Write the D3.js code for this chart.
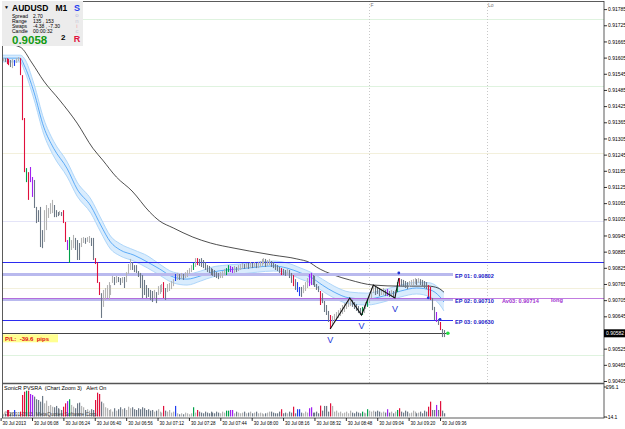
<!DOCTYPE html>
<html>
<head>
<meta charset="utf-8">
<style>
  body { margin: 0; background: #fff; }
  text { font-family: "Liberation Sans", Arial, sans-serif; }
  .axis path { display: none; }
  .axis line { stroke: #000; stroke-width: 0.8px; }
  .axis text { font-size: 5px; fill: #000; }
</style>
</head>
<body>
<script src="https://cdn.jsdelivr.net/npm/d3@7/dist/d3.min.js"></script>
<script>
// ---- data: one AUDUSD M1 bar per minute, first bar 05:53 ----
var highs = [.91603,.91603,.91603,.91600,.91596,.91600,.91596,.91603,.91607,.91603,
  .91540,.91381,.91195,.91180,.91199,.91162,.91151,.91051,.91039,.91051,
  .90965,.91039,.91058,.91047,.91065,.91077,.91058,.91039,.91032,.91036,
  .91032,.91039,.90995,.90928,.90939,.90928,.90947,.90936,.90928,.90917,
  .90936,.90939,.90936,.90939,.90943,.90936,.90936,.90861,.90846,.90772,
  .90731,.90743,.90750,.90761,.90772,.90761,.90795,.90791,.90795,.90791,
  .90787,.90791,.90791,.90809,.90839,.90858,.90846,.90835,.90835,.90813,
  .90806,.90798,.90780,.90761,.90750,.90743,.90739,.90743,.90735,.90757,
  .90761,.90765,.90772,.90750,.90765,.90769,.90776,.90783,.90802,.90806,
  .90802,.90806,.90802,.90809,.90817,.90824,.90835,.90843,.90861,.90861,
  .90858,.90861,.90854,.90846,.90835,.90832,.90824,.90821,.90817,.90809,
  .90806,.90809,.90813,.90821,.90824,.90835,.90832,.90828,.90832,.90828,
  .90835,.90839,.90843,.90839,.90843,.90843,.90846,.90843,.90846,.90843,
  .90846,.90850,.90858,.90861,.90858,.90854,.90858,.90850,.90846,.90839,
  .90835,.90828,.90824,.90821,.90817,.90821,.90817,.90806,.90798,.90783,
  .90772,.90754,.90754,.90761,.90772,.90787,.90802,.90806,.90798,.90795,
  .90765,.90757,.90739,.90731,.90702,.90687,.90665,.90650,.90646,.90654,
  .90661,.90668,.90676,.90687,.90694,.90698,.90706,.90713,.90706,.90698,
  .90691,.90683,.90676,.90680,.90687,.90698,.90709,.90728,.90750,.90761,
  .90754,.90750,.90750,.90746,.90750,.90743,.90746,.90739,.90743,.90739,
  .90743,.90772,.90787,.90783,.90780,.90776,.90772,.90776,.90780,.90783,
  .90787,.90783,.90787,.90783,.90780,.90776,.90772,.90761,.90754,.90713,
  .90680,.90661,.90635,.90624,.90598,.90594];
var lows = [.91592,.91589,.91581,.91577,.91570,.91566,.91574,.91585,.91592,.91540,
  .91373,.91180,.91143,.91077,.91143,.91088,.91047,.90991,.90995,.90902,
  .90898,.90921,.90965,.91010,.91025,.91028,.91013,.91013,.91017,.91021,
  .91017,.90991,.90921,.90891,.90843,.90891,.90898,.90891,.90854,.90854,
  .90902,.90917,.90914,.90921,.90917,.90906,.90854,.90839,.90769,.90724,
  .90639,.90680,.90706,.90713,.90706,.90724,.90769,.90761,.90769,.90772,
  .90761,.90769,.90750,.90772,.90802,.90817,.90817,.90809,.90806,.90791,
  .90750,.90713,.90724,.90713,.90717,.90706,.90698,.90713,.90694,.90724,
  .90728,.90735,.90713,.90706,.90735,.90739,.90746,.90757,.90776,.90780,
  .90780,.90783,.90780,.90787,.90791,.90802,.90809,.90817,.90828,.90835,
  .90832,.90828,.90824,.90817,.90809,.90806,.90798,.90795,.90791,.90787,
  .90783,.90787,.90787,.90798,.90798,.90809,.90809,.90806,.90806,.90809,
  .90813,.90817,.90821,.90821,.90824,.90821,.90824,.90824,.90828,.90824,
  .90824,.90828,.90832,.90839,.90828,.90832,.90835,.90828,.90824,.90817,
  .90813,.90806,.90798,.90798,.90795,.90798,.90787,.90769,.90757,.90743,
  .90735,.90720,.90717,.90731,.90739,.90750,.90757,.90761,.90761,.90754,
  .90743,.90735,.90687,.90694,.90661,.90650,.90624,.90598,.90609,.90620,
  .90631,.90639,.90646,.90654,.90661,.90672,.90680,.90683,.90680,.90672,
  .90665,.90657,.90650,.90650,.90657,.90672,.90680,.90694,.90713,.90731,
  .90724,.90728,.90720,.90724,.90724,.90720,.90720,.90717,.90717,.90713,
  .90713,.90735,.90757,.90757,.90754,.90750,.90746,.90754,.90757,.90761,
  .90765,.90761,.90769,.90761,.90757,.90750,.90746,.90717,.90706,.90668,
  .90631,.90624,.90613,.90594,.90568,.90568];
var volumes = [20,25,59,59,29,35,59,20,18,44,196,226,235,235,205,196,181,157,150,135,
  187,120,144,96,105,89,84,96,75,66,59,89,120,140,157,105,89,75,120,126,
  96,84,59,66,53,66,59,150,217,205,135,120,84,75,59,66,44,75,53,66,
  84,66,75,59,89,75,84,66,59,75,66,84,75,59,66,53,59,44,53,66,
  44,35,96,53,44,59,35,44,96,29,20,29,20,35,29,20,29,84,35,59,
  44,35,29,44,35,29,44,35,29,44,35,29,44,35,53,53,59,59,29,44,
  35,29,35,44,29,35,44,29,35,44,29,35,29,20,29,35,44,44,35,29,
  29,44,66,29,35,29,44,35,89,29,66,66,35,29,44,35,75,84,35,35,
  44,29,99,53,96,96,44,120,96,44,53,35,44,29,35,44,29,53,35,29,
  44,35,29,44,35,29,66,53,44,53,44,53,44,35,44,35,66,35,44,29,
  44,59,75,44,35,53,44,29,35,53,44,29,35,44,29,53,44,89,135,59,
  59,105,59,140,53,29];
// PVSRA coloured bars: [bar index, r=climax bear, G=climax bull, b=rising bull, p=rising bear]
var pvsraBars = [[2,"r"],[3,"r"],[6,"b"],[9,"r"],[10,"r"],[11,"r"],[12,"G"],[13,"r"],[14,"p"],[15,"p"],
  [31,"r"],[32,"r"],[33,"p"],[34,"G"],[47,"r"],[48,"r"],[49,"r"],[82,"r"],[88,"b"],[97,"G"],[99,"r"],
  [114,"G"],[115,"G"],[116,"p"],[117,"p"],[142,"r"],[148,"r"],[150,"b"],[151,"b"],[156,"p"],[157,"p"],
  [162,"r"],[167,"r"],[183,"G"],[186,"G"],[196,"p"],[201,"G"],[202,"r"],[217,"r"],[218,"r"],[221,"p"],[223,"r"]];

// long moving average (black), sampled by bar index
var maIdx = [0,9,15,21,29,38,46,51,58,66,75,80,87,97,106,118,126,138,150,157,160,169,177,189,203,217,222,225];
var maVal = [.91659,.91644,.91585,.91518,.91448,.91362,.91269,.91225,.91162,.91110,.91032,.90999,.90973,.90939,
  .90917,.90898,.90887,.90872,.90858,.90843,.90828,.90798,.90780,.90761,.90757,.90757,.90750,.90735];
// EMA dragon band (high / close / low)
var emaIdx = [0,9,11,16,21,26,33,38,45,50,55,60,67,74,80,87,94,101,107,114,121,130,138,145,152,157,163,169,177,186,194,203,211,218,223,225];
var emaMid = [.91603,.91603,.91577,.91477,.91347,.91269,.91192,.91117,.91054,.90984,.90921,.90891,.90872,.90846,.90821,.90791,.90783,.90795,
  .90809,.90817,.90821,.90828,.90832,.90824,.90806,.90791,.90761,.90735,.90713,.90709,.90720,.90739,.90750,.90743,.90717,.90698];
var emaHigh = [.91614,.91614,.91603,.91507,.91377,.91295,.91217,.91143,.91080,.91010,.90943,.90914,.90891,.90869,.90839,.90809,.90802,.90813,
  .90828,.90835,.90839,.90846,.90850,.90843,.90824,.90809,.90783,.90757,.90735,.90731,.90743,.90761,.90772,.90769,.90746,.90731];
var emaLow = [.91589,.91589,.91559,.91451,.91321,.91240,.91162,.91091,.91028,.90958,.90895,.90869,.90850,.90824,.90798,.90769,.90761,.90776,
  .90791,.90798,.90802,.90809,.90813,.90806,.90783,.90769,.90739,.90713,.90691,.90687,.90698,.90717,.90728,.90717,.90687,.90665];

// zigzag swings and "V" lows
var zigIdx = [167,177,183,189,200,202];
var zigVal = [.90598,.90713,.90650,.90761,.90713,.90787];
var vLows = [0,2,4];

// trade levels
var entryNames = ["EP 01", "EP 02", "EP 03"];
var entryPrices = [0.90802, 0.90710, 0.90630];
var entryBars = [202, 217, 223];
var avgPrice = 0.90714, stopPrice = 0.90846, bidPrice = 0.90582, plPips = -39.6;
var roundLevels = [0.9175, 0.9150, 0.9125, 0.9100, 0.9075, 0.9050];
var roundColors = ["#dff3df", "#dff3df", "#f3f0dc", "#e4e4f8", "#f3f0dc", "#dff3df"];

// axes
var priceTicks = [0.90405,0.90465,0.90525,0.90645,0.90705,0.90765,0.90825,0.90885,0.90945,0.91005,0.91065,
  0.91125,0.91185,0.91245,0.91305,0.91365,0.91425,0.91485,0.91545,0.91605,0.91665,0.91725,0.91785];
var timeTicks = ["05:52","06:08","06:24","06:40","06:56","07:12","07:28","07:44","08:00","08:16","08:32","08:48","09:04","09:20","09:36"];
var sessionTimes = ["09:00", "10:00"], sessionNames = ["F", "Lo"];
var volTicks = [296.1, -14.1];

// ---- scales ----
function tm(s) { var p = s.split(":"); return new Date(2013, 6, 30, +p[0], +p[1]); }
var firstBar = tm("05:53");
var x = d3.scaleTime().domain([tm("06:08"), tm("09:36")]).range([32, 440]);
function bx(i) { return x(new Date(firstBar.getTime() + i * 60000)); }
var y = d3.scaleLinear().domain([0.90405, 0.91785]).range([381, 9.1]);
var yv = d3.scaleLinear().domain([-14.1, 296.1]).range([418, 384]);

var colorOf = { r: "#e0103c", G: "#00a04a", b: "#1f3ef0", p: "#a020f0" };
var special = {};
pvsraBars.forEach(function (d) { special[d[0]] = colorOf[d[1]]; });
function barColor(i) {
  if (special[i]) return special[i];
  var m = (highs[i] + lows[i]) / 2, pm = i > 0 ? (highs[i - 1] + lows[i - 1]) / 2 : m;
  return m >= pm ? "#b3b3b3" : "#6c7886";
}

var svg = d3.select("body").append("svg").attr("width", 625).attr("height", 429);
svg.append("rect").attr("width", 625).attr("height", 429).attr("fill", "#fff");

svg.append("clipPath").attr("id", "main").append("rect").attr("x", 2).attr("y", 1).attr("width", 602).attr("height", 382);
var g = svg.append("g").attr("clip-path", "url(#main)");

// round level lines
g.selectAll(".lvl").data(roundLevels).enter().append("line")
  .attr("x1", 2).attr("x2", 604)
  .attr("y1", function (d) { return Math.round(y(d)) + 0.5; })
  .attr("y2", function (d) { return Math.round(y(d)) + 0.5; })
  .attr("stroke", function (d, i) { return roundColors[i]; });

// session lines
g.selectAll(".ses").data(sessionTimes).enter().append("line")
  .attr("x1", function (d) { return Math.round(x(tm(d))) + 0.5; })
  .attr("x2", function (d) { return Math.round(x(tm(d))) + 0.5; })
  .attr("y1", 1).attr("y2", 383)
  .attr("stroke", "#c8c8c8").attr("stroke-dasharray", "1,2");
svg.selectAll(".sesl").data(sessionNames).enter().append("text")
  .attr("x", function (d, i) { return x(tm(sessionTimes[i])) + 1; })
  .attr("y", 7).style("font-size", "5px").attr("fill", "#777")
  .text(function (d) { return d; });

// ema band
var band = d3.area().x(function (d) { return bx(d); })
  .y0(function (d, i) { return y(emaLow[i]); })
  .y1(function (d, i) { return y(emaHigh[i]); })
  .curve(d3.curveMonotoneX);
g.append("path").datum(emaIdx).attr("d", band).attr("fill", "#d9ecfd");
[emaHigh, emaLow].forEach(function (arr) {
  g.append("path").datum(emaIdx)
    .attr("d", d3.line().x(function (d) { return bx(d); }).y(function (d, i) { return y(arr[i]); }).curve(d3.curveMonotoneX))
    .attr("fill", "none").attr("stroke", "#aed6fa").attr("stroke-width", 1);
});
g.append("path").datum(emaIdx)
  .attr("d", d3.line().x(function (d) { return bx(d); }).y(function (d, i) { return y(emaMid[i]); }).curve(d3.curveMonotoneX))
  .attr("fill", "none").attr("stroke", "#3d9bf5").attr("stroke-width", 0.8);

// long MA
g.append("path").datum(maIdx)
  .attr("d", d3.line().x(function (d) { return bx(d); }).y(function (d, i) { return y(maVal[i]); }).curve(d3.curveMonotoneX))
  .attr("fill", "none").attr("stroke", "#222").attr("stroke-width", 0.8);

// trade level lines
function hy(p) { return Math.round(y(p)) + 0.5; }
g.append("line").attr("x1", 2).attr("x2", 604).attr("y1", hy(stopPrice)).attr("y2", hy(stopPrice))
  .attr("stroke", "#2b2bf0").attr("stroke-width", 1.2);
g.selectAll(".ep").data(entryPrices).enter().append("line")
  .attr("x1", 2).attr("x2", 453)
  .attr("y1", hy).attr("y2", hy)
  .attr("stroke", function (d, i) { return i < 2 ? "#b9b9ee" : "#2b2bf0"; })
  .attr("stroke-width", function (d, i) { return i < 2 ? 3 : 1; });
g.append("line").attr("x1", 2).attr("x2", 604).attr("y1", hy(avgPrice)).attr("y2", hy(avgPrice))
  .attr("stroke", "#b15ad8").attr("stroke-width", 0.8);
g.append("line").attr("x1", 2).attr("x2", bx(highs.length) + 2).attr("y1", hy(bidPrice)).attr("y2", hy(bidPrice))
  .attr("stroke", "#444").attr("stroke-width", 1);

// price bars
g.selectAll(".bar").data(highs).enter().append("line")
  .attr("x1", function (d, i) { return Math.round(bx(i)) + 0.5; })
  .attr("x2", function (d, i) { return Math.round(bx(i)) + 0.5; })
  .attr("y1", function (d) { return y(d); })
  .attr("y2", function (d, i) { return Math.max(y(lows[i]), y(d) + 1); })
  .attr("stroke", function (d, i) { return barColor(i); })
  .attr("stroke-width", 1.1);

// zigzag
g.append("path").datum(zigIdx)
  .attr("d", d3.line().x(function (d) { return bx(d); }).y(function (d, i) { return y(zigVal[i]); }))
  .attr("fill", "none").attr("stroke", "#111").attr("stroke-width", 1.1);
g.selectAll(".vl").data(vLows).enter().append("text")
  .attr("x", function (d) { return bx(zigIdx[d]); })
  .attr("y", function (d) { return y(zigVal[d]) + 14; })
  .attr("text-anchor", "middle").style("font-size", "9px").attr("fill", "#2436d8")
  .text("V");

// entry markers + current price dot
g.selectAll(".em").data(entryBars).enter().append("circle")
  .attr("cx", function (d) { return bx(d); })
  .attr("cy", function (d, i) { return y(entryPrices[i]) - 1; })
  .attr("r", 1.4).attr("fill", "#2436d8");
g.append("circle").attr("cx", bx(highs.length + 1)).attr("cy", y(bidPrice)).attr("r", 1.8).attr("fill", "#22dd44");

// level labels
svg.selectAll(".epl").data(entryPrices).enter().append("text")
  .attr("x", 455).attr("y", function (d) { return y(d) + 4; })
  .style("font-size", "5.6px").style("font-weight", "bold").attr("fill", "#2020c8")
  .text(function (d, i) { return entryNames[i] + ": " + d3.format(".5f")(d); });
svg.append("text").attr("x", 502).attr("y", y(entryPrices[1]) + 4)
  .style("font-size", "5.6px").style("font-weight", "bold").attr("fill", "#a030d0")
  .text("Av03: " + d3.format(".5f")(avgPrice));
svg.append("text").attr("x", 551).attr("y", y(entryPrices[1]) + 3)
  .style("font-size", "5.6px").style("font-weight", "bold").attr("fill", "#a030d0").text("long");

// P/L box
svg.append("rect").attr("x", 3).attr("y", y(bidPrice) + 1).attr("width", 55).attr("height", 8).attr("fill", "#ffff90");
svg.append("text").attr("x", 5).attr("y", y(bidPrice) + 7.3)
  .style("font-size", "6px").style("font-weight", "bold").attr("fill", "#e01010").attr("xml:space", "preserve")
  .text("P/L:  " + plPips.toFixed(1) + "  pips");

// volume bars
svg.selectAll(".vol").data(volumes).enter().append("rect")
  .attr("x", function (d, i) { return Math.round(bx(i)); })
  .attr("width", 1.2)
  .attr("y", function (d) { return yv(d); })
  .attr("height", function (d) { return yv(0) - yv(d); })
  .attr("fill", function (d, i) { return barColor(i); });
svg.append("text").attr("x", 4).attr("y", 390).style("font-size", "5.5px").attr("fill", "#000")
  .attr("xml:space", "preserve").text("SonicR PVSRA  (Chart Zoom 3)   Alert On");
svg.append("text").attr("x", 4).attr("y", 416).style("font-size", "5px").attr("fill", "#444")
  .text("\u00a9 2001-2013, MetaQuotes Software Corp.");

// frames
svg.append("rect").attr("x", 2.5).attr("y", 1.5).attr("width", 601.5).attr("height", 416.5)
  .attr("fill", "none").attr("stroke", "#333").attr("stroke-width", 0.8);
svg.append("line").attr("x1", 2).attr("x2", 604).attr("y1", 383.5).attr("y2", 383.5).attr("stroke", "#555").attr("stroke-width", 1.6);

// right price axis
svg.append("g").attr("class", "axis").attr("transform", "translate(604,0)")
  .call(d3.axisRight(y).tickValues(priceTicks).tickSize(3).tickPadding(1).tickFormat(d3.format(".5f")));
svg.append("rect").attr("x", 604).attr("y", y(bidPrice) - 4).attr("width", 21).attr("height", 8).attr("fill", "#000");
svg.append("text").attr("x", 606).attr("y", y(bidPrice) + 2).style("font-size", "5px").attr("fill", "#fff")
  .text(d3.format(".5f")(bidPrice));

// volume axis
svg.selectAll(".vt").data(volTicks).enter().append("text")
  .attr("x", 606).attr("y", function (d, i) { return yv(d) + (i === 0 ? 4.5 : 0.5); })
  .style("font-size", "5px").text(function (d) { return d.toFixed(1); });
svg.selectAll(".vtl").data(volTicks).enter().append("line")
  .attr("x1", 604).attr("x2", 607)
  .attr("y1", function (d, i) { return yv(d) + (i === 0 ? 3 : -1); })
  .attr("y2", function (d, i) { return yv(d) + (i === 0 ? 3 : -1); })
  .attr("stroke", "#000").attr("stroke-width", 0.8);

// time axis
var tAxis = svg.append("g").attr("class", "axis").attr("transform", "translate(0,418)")
  .call(d3.axisBottom(x).tickValues(timeTicks.map(tm)).tickSize(3)
    .tickFormat(function (d, i) { return i === 0 ? "30 Jul 2013" : "30 Jul " + timeTicks[i]; }));
tAxis.selectAll("text").attr("text-anchor", "start").attr("dx", "1.5").attr("y", 4).style("font-size", "4.5px");

// info panel
var info = svg.append("g");
info.append("rect").attr("x", 2).attr("y", 1).attr("width", 81).attr("height", 45).attr("fill", "#ececec");
info.append("text").attr("x", 4).attr("y", 9).style("font-size", "5px").text("\u25bc");
info.append("text").attr("x", 12).attr("y", 11).style("font-size", "8.5px").style("font-weight", "bold")
  .attr("xml:space", "preserve").text("AUDUSD   M1");
var infoRows = [["Spread", "2.70"], ["Range", "135 , 153"], ["Swaps", "-4.38 , -7.30"], ["Candle", "00:00:32"]];
infoRows.forEach(function (r, i) {
  info.append("text").attr("x", 12).attr("y", 17.5 + i * 5.3).style("font-size", "5px").text(r[0]);
  info.append("text").attr("x", 33).attr("y", 17.5 + i * 5.3).style("font-size", "5px").text(r[1]);
});
info.append("text").attr("x", 12).attr("y", 44).style("font-size", "11.5px").style("font-weight", "bold")
  .attr("fill", "#129a12").text("0.9058");
info.append("text").attr("x", 61).attr("y", 40).style("font-size", "8px").style("font-weight", "bold").text("2");
var sonic = [["S", "#1f3ef0", 11, 9, "bold"], ["o", "#b7b7e0", 17, 6, "normal"], ["n", "#c8c8d8", 23, 6, "normal"],
  ["i", "#f0a0b0", 28, 6, "normal"], ["c", "#c8c8d8", 33, 6, "normal"], ["R", "#e0103c", 42, 9, "bold"]];
sonic.forEach(function (s) {
  info.append("text").attr("x", 77).attr("y", s[2]).attr("text-anchor", "middle")
    .style("font-size", s[3] + "px").style("font-weight", s[4]).attr("fill", s[1]).text(s[0]);
});
</script>
</body>
</html>
